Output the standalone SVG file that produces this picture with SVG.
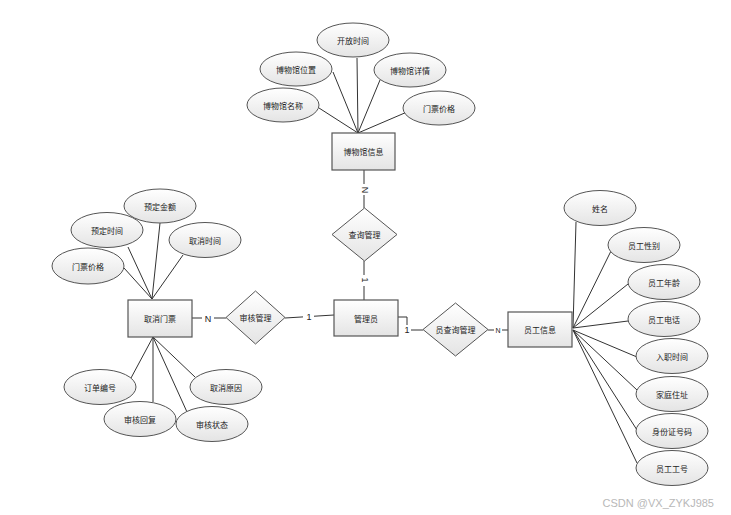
<svg xmlns="http://www.w3.org/2000/svg" width="731" height="515" viewBox="0 0 731 515">
<defs>
<linearGradient id="g" x1="0" y1="0" x2="0" y2="1">
<stop offset="0" stop-color="#ffffff"/>
<stop offset="1" stop-color="#e4e4e4"/>
</linearGradient>
<style>
.e{fill:url(#g);stroke:#555;stroke-width:1}
.r{fill:url(#g);stroke:#555;stroke-width:1.2}
.d{fill:url(#g);stroke:#555;stroke-width:1}
.t{font-family:"Noto Sans CJK SC","Noto Sans",sans-serif;font-size:8px;fill:#222;text-anchor:middle;dominant-baseline:central}
.l{font-family:"Liberation Sans",sans-serif;font-size:9px;fill:#222;text-anchor:middle;dominant-baseline:central}
.c line,.c polyline{stroke:#333;stroke-width:1;fill:none}
</style>
</defs>
<rect width="731" height="515" fill="#fff"/>
<g class="c" id="connectors">
<line x1="357" y1="58" x2="358" y2="133"/>
<line x1="333" y1="72" x2="358" y2="133"/>
<line x1="380" y1="80" x2="358" y2="133"/>
<line x1="319" y1="108" x2="358" y2="133"/>
<line x1="407" y1="112" x2="358" y2="133"/>
<line x1="364" y1="170" x2="364" y2="208"/>
<line x1="364" y1="261" x2="364" y2="300"/>
<line x1="285" y1="318" x2="334" y2="315"/>
<line x1="192" y1="318" x2="226" y2="318"/>
<polyline points="398,317 407,317 407,330 423,330"/>
<line x1="488" y1="330" x2="508" y2="330"/>
<line x1="124" y1="268" x2="152" y2="299"/>
<line x1="128" y1="247" x2="152" y2="299"/>
<line x1="160" y1="223" x2="152" y2="299"/>
<line x1="183" y1="255" x2="152" y2="299"/>
<line x1="131" y1="378" x2="153" y2="337"/>
<line x1="153" y1="402" x2="153" y2="337"/>
<line x1="187" y1="412" x2="153" y2="337"/>
<line x1="195" y1="377" x2="153" y2="337"/>
<line x1="576" y1="222" x2="573" y2="328"/>
<line x1="611" y1="251" x2="573" y2="328"/>
<line x1="628" y1="284" x2="573" y2="328"/>
<line x1="628" y1="321" x2="573" y2="328"/>
<line x1="637" y1="357" x2="573" y2="330"/>
<line x1="637" y1="390" x2="573" y2="330"/>
<line x1="637" y1="430" x2="573" y2="330"/>
<line x1="637" y1="463" x2="573" y2="330"/>
</g>
<g id="labels">
<rect x="359" y="184" width="11" height="11" fill="#fff"/>
<text class="l" transform="translate(365,190) rotate(90)">N</text>
<rect x="359" y="275" width="11" height="11" fill="#fff"/>
<text class="l" transform="translate(365,280) rotate(90)">1</text>
<rect x="303" y="312" width="11" height="10" fill="#fff"/>
<text class="l" x="309" y="317">1</text>
<rect x="202" y="313" width="12" height="10" fill="#fff"/>
<text class="l" x="208" y="319">N</text>
<rect x="404" y="325" width="7" height="10" fill="#fff"/>
<text class="l" x="407" y="330">1</text>
<rect x="494" y="326" width="8" height="8" fill="#fff"/>
<text class="l" x="498" y="330" style="font-size:7px">N</text>
</g>
<g id="n_bwgxx"><rect class="r" x="332" y="133" width="63" height="37"/><text class="t" x="363.5" y="151.5">博物馆信息</text></g>
<g id="n_kfsj"><ellipse class="e" cx="353" cy="40" rx="36" ry="17"/><text class="t" x="353" y="40">开放时间</text></g>
<g id="n_bwgwz"><ellipse class="e" cx="296" cy="69" rx="36" ry="17"/><text class="t" x="296" y="69">博物馆位置</text></g>
<g id="n_bwgxq"><ellipse class="e" cx="410" cy="70" rx="36" ry="17"/><text class="t" x="410" y="70">博物馆详情</text></g>
<g id="n_bwgmc"><ellipse class="e" cx="283" cy="105" rx="36" ry="17"/><text class="t" x="283" y="105">博物馆名称</text></g>
<g id="n_mpjg1"><ellipse class="e" cx="439" cy="108" rx="36" ry="17"/><text class="t" x="439" y="108">门票价格</text></g>
<g id="n_cxgl"><polygon class="d" points="364.5,208 397,234.5 364.5,261 332,234.5"/><text class="t" x="364.5" y="234.5">查询管理</text></g>
<g id="n_gly"><rect class="r" x="334" y="300" width="64" height="36"/><text class="t" x="366" y="318">管理员</text></g>
<g id="n_shgl"><polygon class="d" points="255.5,291 285,317.5 255.5,344 226,317.5"/><text class="t" x="255.5" y="317.5">审核管理</text></g>
<g id="n_ycxgl"><polygon class="d" points="455.5,303 488,329.5 455.5,356 423,329.5"/><text class="t" x="455.5" y="329.5">员查询管理</text></g>
<g id="n_ygxx"><rect class="r" x="508" y="312" width="64" height="35"/><text class="t" x="540" y="329.5">员工信息</text></g>
<g id="n_xm"><ellipse class="e" cx="600" cy="208" rx="36" ry="17.5"/><text class="t" x="600" y="208">姓名</text></g>
<g id="n_ygxb"><ellipse class="e" cx="644" cy="245" rx="36" ry="17.5"/><text class="t" x="644" y="245">员工性别</text></g>
<g id="n_ygnl"><ellipse class="e" cx="664" cy="282" rx="36" ry="17.5"/><text class="t" x="664" y="282">员工年龄</text></g>
<g id="n_ygdh"><ellipse class="e" cx="664" cy="319" rx="36" ry="17.5"/><text class="t" x="664" y="319">员工电话</text></g>
<g id="n_rzsj"><ellipse class="e" cx="672" cy="356" rx="36" ry="17.5"/><text class="t" x="672" y="356">入职时间</text></g>
<g id="n_jtzz"><ellipse class="e" cx="672" cy="394" rx="36" ry="17.5"/><text class="t" x="672" y="394">家庭住址</text></g>
<g id="n_sfzhm"><ellipse class="e" cx="672" cy="431" rx="36" ry="17.5"/><text class="t" x="672" y="431">身份证号码</text></g>
<g id="n_yggh"><ellipse class="e" cx="672" cy="468" rx="36" ry="17.5"/><text class="t" x="672" y="468">员工工号</text></g>
<g id="n_qxmp"><rect class="r" x="128" y="300" width="64" height="37"/><text class="t" x="160" y="318.5">取消门票</text></g>
<g id="n_ydje"><ellipse class="e" cx="160" cy="206" rx="36" ry="17"/><text class="t" x="160" y="206">预定金额</text></g>
<g id="n_ydsj"><ellipse class="e" cx="107" cy="230" rx="36" ry="17.5"/><text class="t" x="107" y="230">预定时间</text></g>
<g id="n_qxsj"><ellipse class="e" cx="205" cy="240" rx="36" ry="17.5"/><text class="t" x="205" y="240">取消时间</text></g>
<g id="n_mpjg2"><ellipse class="e" cx="88" cy="266" rx="36" ry="18"/><text class="t" x="88" y="266">门票价格</text></g>
<g id="n_ddbh"><ellipse class="e" cx="100" cy="387" rx="36" ry="17.5"/><text class="t" x="100" y="387">订单编号</text></g>
<g id="n_shhf"><ellipse class="e" cx="140" cy="419" rx="36" ry="17.5"/><text class="t" x="140" y="419">审核回复</text></g>
<g id="n_qxyy"><ellipse class="e" cx="226" cy="387" rx="36" ry="17.5"/><text class="t" x="226" y="387">取消原因</text></g>
<g id="n_shzt"><ellipse class="e" cx="212" cy="424" rx="36" ry="17.5"/><text class="t" x="212" y="424">审核状态</text></g>
<text x="714" y="503" style="font-family:'Liberation Sans',sans-serif;font-size:11px;fill:#b8b8b8;text-anchor:end;dominant-baseline:central">CSDN @VX_ZYKJ985</text>
</svg>
